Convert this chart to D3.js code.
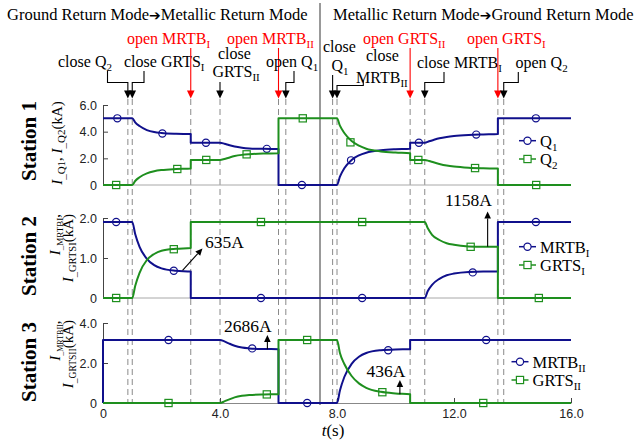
<!DOCTYPE html>
<html><head><meta charset="utf-8">
<script src="https://cdn.jsdelivr.net/npm/d3@7"></script>
<style>body{margin:0;background:#fff} svg{display:block}</style>
</head><body>
<script>
// ---------------- DATA ----------------
const timeTicks = [0, 4, 8, 12, 16];
const s1Ticks = [0, 2, 4, 6];
const s2Ticks = [0, 1, 2];
const s3Ticks = [0, 2, 4];
const eventTimes = [0.85, 1.0, 3.0, 4.0, 6.0, 6.25, 7.85, 8.0, 10.5, 11.0, 13.5, 13.7];

// Station 1
const s1_Q1 = [[0,5.0],[1.0,5.0],[1.1,4.7],[1.25,4.42],[1.5,4.12],[1.75,3.97],[2.0,3.9],[2.5,3.84],[3.0,3.82],[3.0,3.17],[4.0,3.17],[4.15,3.1],[4.3,3.0],[4.5,2.88],[4.75,2.79],[5.0,2.74],[5.5,2.71],[6.0,2.7],[6.0,0],[8.0,0],[8.1,0.62],[8.25,1.25],[8.5,1.88],[8.75,2.22],[9.0,2.42],[9.5,2.6],[10.0,2.68],[10.5,2.72],[10.5,3.17],[11.0,3.17],[11.15,3.28],[11.3,3.38],[11.5,3.5],[11.75,3.6],[12.0,3.67],[12.5,3.75],[13.0,3.79],[13.5,3.82],[13.5,5.0],[16,5.0]];
const s1_Q2 = [[0,0],[1.0,0],[1.1,0.3],[1.25,0.58],[1.5,0.87],[1.75,1.03],[2.0,1.12],[2.5,1.2],[3.0,1.24],[3.0,1.88],[4.0,1.88],[4.15,1.95],[4.3,2.05],[4.5,2.17],[4.75,2.26],[5.0,2.31],[5.5,2.36],[6.0,2.38],[6.0,5.0],[8.0,5.0],[8.1,4.45],[8.25,3.9],[8.5,3.3],[8.75,2.95],[9.0,2.72],[9.5,2.52],[10.0,2.43],[10.5,2.38],[10.5,1.88],[11.0,1.88],[11.15,1.8],[11.3,1.7],[11.5,1.58],[11.75,1.46],[12.0,1.38],[12.5,1.29],[13.0,1.25],[13.5,1.23],[13.5,0],[16,0]];
const s1_Q1_marks = [[0.49,5.0],[2.03,3.86],[3.52,3.17],[5.6,2.71],[6.8,0],[8.48,1.85],[10.8,3.17],[12.76,3.78],[14.8,5.0]];
const s1_Q2_marks = [[0.45,0],[2.54,1.2],[3.53,1.88],[4.91,2.3],[6.83,5.0],[8.46,3.2],[10.78,1.88],[12.72,1.27],[14.81,0]];

// Station 2
const s2_MRTB1 = [[0,1.9],[1.0,1.9],[1.1,1.6],[1.25,1.28],[1.5,0.98],[1.75,0.82],[2.0,0.74],[2.5,0.68],[3.0,0.66],[3.0,0],[11.0,0],[11.1,0.17],[11.25,0.33],[11.5,0.48],[11.75,0.57],[12.0,0.61],[12.5,0.65],[13.0,0.66],[13.5,0.66],[13.5,1.9],[16,1.9]];
const s2_GRTS1 = [[0,0],[1.0,0],[1.1,0.3],[1.25,0.63],[1.5,0.95],[1.75,1.1],[2.0,1.18],[2.5,1.23],[3.0,1.25],[3.0,1.9],[11.0,1.9],[11.1,1.75],[11.25,1.58],[11.5,1.45],[11.75,1.37],[12.0,1.33],[12.5,1.29],[13.0,1.28],[13.5,1.28],[13.5,0],[16,0]];
const s2_MRTB1_marks = [[0.45,1.9],[2.42,0.68],[5.4,0],[8.86,0],[12.64,0.64],[14.8,1.9]];
const s2_GRTS1_marks = [[0.45,0],[2.42,1.22],[5.4,1.9],[8.86,1.9],[12.57,1.28],[14.9,0]];

// Station 3
const s3_MRTB2 = [[0,0],[0,3.15],[4.0,3.15],[4.15,3.08],[4.3,2.98],[4.5,2.86],[4.75,2.77],[5.0,2.73],[5.5,2.7],[6.0,2.69],[6.0,0],[8.0,0],[8.1,0.62],[8.25,1.3],[8.5,1.96],[8.75,2.31],[9.0,2.5],[9.5,2.64],[10.0,2.68],[10.5,2.69],[10.5,3.15],[16,3.15]];
const s3_GRTS2 = [[0,0],[4.0,0],[4.15,0.08],[4.3,0.17],[4.5,0.28],[4.75,0.36],[5.0,0.4],[5.5,0.43],[6.0,0.44],[6.0,3.15],[8.0,3.15],[8.1,2.5],[8.25,1.95],[8.5,1.35],[8.75,0.98],[9.0,0.76],[9.5,0.56],[10.0,0.48],[10.5,0.44],[10.5,0],[16,0]];
const s3_MRTB2_marks = [[2.24,3.15],[5.1,2.73],[6.98,0],[9.75,2.64],[13.1,3.15]];
const s3_GRTS2_marks = [[2.24,0],[5.6,0.43],[6.98,3.15],[9.55,0.54],[13.0,0]];

// value call-outs: [label, t from, value from, t to, value to]
const callouts = [["635A", 2.72, 0.69, 3.4, 1.24], ["1158A", 13.15, 1.28, 13.15, 2.16], ["2686A", 5.62, 2.69, 5.62, 3.4], ["436A", 10.15, 0.44, 10.15, 1.15]];

// ---------------- DRAW ----------------
const SERIF = "Liberation Serif, Tinos, Times New Roman, DejaVu Serif, Noto Serif, serif";
const SANS = "Liberation Sans, Arimo, Arial, sans-serif";
const BLUE = "#10108c", GREEN = "#1e8f1e", RED = "#ff0000", DASH = "#8a8a8a";
const W = 634, H = 445;
const svg = d3.select("body").append("svg").attr("width", W).attr("height", H);

const x = d3.scaleLinear().domain([0, 16]).range([103, 571]);
const panels = [
  {y: d3.scaleLinear().domain([0, 6]).range([185, 105]), ticks: s1Ticks,
   series: [[s1_Q1, s1_Q1_marks, BLUE, "c"], [s1_Q2, s1_Q2_marks, GREEN, "s"]]},
  {y: d3.scaleLinear().domain([0, 2]).range([298, 218]), ticks: s2Ticks,
   series: [[s2_MRTB1, s2_MRTB1_marks, BLUE, "c"], [s2_GRTS1, s2_GRTS1_marks, GREEN, "s"]]},
  {y: d3.scaleLinear().domain([0, 4]).range([403, 323]), ticks: s3Ticks,
   series: [[s3_MRTB2, s3_MRTB2_marks, BLUE, "c"], [s3_GRTS2, s3_GRTS2_marks, GREEN, "s"]]}
];
const fmt = d => d === 0 ? "0" : d.toFixed(1);

// rich text helper: parts = [text, type] with type n|i|sub|arrow
function rich(sel, parts, size, subSize, shiftPx) {
  let cur = 0;
  parts.forEach(p => {
    const s = Array.isArray(p) ? p[0] : p;
    const type = Array.isArray(p) ? p[1] : "n";
    const ts = sel.append("tspan").text(s);
    const target = type === "sub" ? shiftPx : 0;
    if (target - cur !== 0) ts.attr("dy", target - cur);
    cur = target;
    ts.attr("font-size", type === "sub" ? subSize : size);
    if (type === "i") ts.attr("font-style", "italic");
    if (type === "arrow") ts.attr("font-family", "DejaVu Sans").attr("font-size", size * 0.85).attr("font-weight", "bold");
  });
  return sel;
}
function txt(px, py, parts, opt = {}) {
  const t = svg.append("text").attr("x", px).attr("y", py)
    .style("font-family", SERIF).attr("fill", opt.fill || "#000")
    .attr("text-anchor", opt.anchor || "start").attr("font-size", opt.size || 16);
  return rich(t, parts, opt.size || 16, opt.sub || 11, opt.shift || 4);
}
function rtxt(px, py, parts, opt = {}) {
  const t = svg.append("text").attr("transform", `translate(${px},${py}) rotate(-90)`)
    .style("font-family", SERIF).attr("fill", "#000")
    .attr("text-anchor", opt.anchor || "middle").attr("font-size", opt.size || 16);
  if (opt.bold) t.attr("font-weight", "bold");
  return rich(t, parts, opt.size || 16, opt.sub || 11, opt.shift || 3.5);
}
function head(px, tipY, color) {
  svg.append("path").attr("d", `M${px - 3.8},${tipY - 8}L${px + 3.8},${tipY - 8}L${px},${tipY}Z`).attr("fill", color);
}

// header
txt(7, 20, ["Ground Return Mode", ["\u2794", "arrow"], "Metallic Return Mode"], {size: 16.5});
txt(333, 20, ["Metallic Return Mode", ["\u2794", "arrow"], "Ground Return Mode"], {size: 16.5});
svg.append("line").attr("x1", 320).attr("x2", 320).attr("y1", 3).attr("y2", 405)
  .attr("stroke", "#555").attr("stroke-width", 1.2);

// dashed event lines
svg.append("g").selectAll("line").data(eventTimes).join("line")
  .attr("x1", d => x(d)).attr("x2", d => x(d)).attr("y1", 99).attr("y2", 403)
  .attr("stroke", DASH).attr("stroke-width", 1).attr("stroke-dasharray", "6,4");

// panels
panels.forEach((p, i) => {
  const g = svg.append("g");
  if (i < 2) {
    g.append("line").attr("x1", x(0)).attr("x2", x(16)).attr("y1", p.y(0)).attr("y2", p.y(0))
      .attr("stroke", "#a8a8a8").attr("stroke-width", 1);
  } else {
    const ax = g.append("g").attr("transform", `translate(0,${p.y(0)})`)
      .call(d3.axisBottom(x).tickValues(timeTicks).tickSize(-5).tickSizeOuter(0).tickPadding(6).tickFormat(fmt));
    ax.select(".domain").attr("stroke", "#888");
    ax.selectAll(".tick line").attr("stroke", "#444");
    ax.selectAll("text").style("font-family", SANS).attr("font-size", 12.5).attr("fill", "#222");
  }
  const ay = g.append("g").attr("transform", `translate(${x(0)},0)`)
    .call(d3.axisLeft(p.y).tickValues(p.ticks).tickSize(-5).tickSizeOuter(0).tickPadding(6).tickFormat(fmt));
  ay.select(".domain").attr("stroke", "#444");
  ay.selectAll(".tick line").attr("stroke", "#444");
  ay.selectAll("text").style("font-family", SANS).attr("font-size", 12.5).attr("fill", "#222");

  const line = d3.line().x(d => x(d[0])).y(d => p.y(d[1])).curve(d3.curveMonotoneX);
  p.series.forEach(([data, marks, color, shape]) => {
    g.append("path").attr("d", line(data)).attr("fill", "none").attr("stroke", color)
      .attr("stroke-width", 2).attr("stroke-linejoin", "round");
    if (shape === "c") {
      g.selectAll(null).data(marks).join("circle").attr("cx", d => x(d[0])).attr("cy", d => p.y(d[1]))
        .attr("r", 3.6).attr("fill", "none").attr("stroke", color).attr("stroke-width", 1.2);
    } else {
      g.selectAll(null).data(marks).join("rect").attr("x", d => x(d[0]) - 3.6).attr("y", d => p.y(d[1]) - 3.6)
        .attr("width", 7.2).attr("height", 7.2).attr("fill", "none").attr("stroke", color).attr("stroke-width", 1.2);
    }
  });
});

// legends
function legendRow(lx, ly, color, shape, parts) {
  svg.append("line").attr("x1", lx).attr("x2", lx + 17).attr("y1", ly).attr("y2", ly)
    .attr("stroke", color).attr("stroke-width", 1.5);
  if (shape === "c") svg.append("circle").attr("cx", lx + 8.5).attr("cy", ly).attr("r", 3.6)
    .attr("fill", "#fff").attr("stroke", color).attr("stroke-width", 1.2);
  else svg.append("rect").attr("x", lx + 4.9).attr("y", ly - 3.6).attr("width", 7.2).attr("height", 7.2)
    .attr("fill", "#fff").attr("stroke", color).attr("stroke-width", 1.2);
  txt(lx + 21, ly + 6, parts, {size: 16.5});
}
legendRow(519, 140.7, BLUE, "c", ["Q", ["1", "sub"]]);
legendRow(519, 159, GREEN, "s", ["Q", ["2", "sub"]]);
legendRow(519, 246.7, BLUE, "c", ["MRTB", ["I", "sub"]]);
legendRow(519, 265, GREEN, "s", ["GRTS", ["I", "sub"]]);
legendRow(511.5, 361.7, BLUE, "c", ["MRTB", ["II", "sub"]]);
legendRow(511.5, 380, GREEN, "s", ["GRTS", ["II", "sub"]]);

// y labels
rtxt(36, 141, ["Station 1"], {size: 21, bold: true});
rtxt(36, 256, ["Station 2"], {size: 21, bold: true});
rtxt(36, 362, ["Station 3"], {size: 21, bold: true});
rtxt(61.5, 143, [["I", "i"], ["_Q1", "sub"], ", ", ["I", "i"], ["_Q2", "sub"], "(kA)"], {size: 15});
rtxt(59.5, 214, [["I", "i"], ["_MRTBI", "sub"], ","], {size: 15, sub: 9, anchor: "end"});
rtxt(72.5, 214, [["I", "i"], ["_GRTSI", "sub"], "(kA)"], {size: 15, sub: 10.5, anchor: "end"});
rtxt(59.5, 320.5, [["I", "i"], ["_MRTBII", "sub"], ","], {size: 15, sub: 8, anchor: "end"});
rtxt(72.5, 320, [["I", "i"], ["_GRTSII", "sub"], "(kA)"], {size: 15, sub: 9.5, anchor: "end"});

// x label
txt(333, 436, [["t", "i"], "(s)"], {anchor: "middle", size: 17});

// top annotations
const leaderY = 82.5, tipY = 98.5;
function leader(fromX, fromY, t) {
  const ex = x(t);
  svg.append("path").attr("d", `M${fromX},${fromY}V${leaderY}H${ex}V${tipY - 7}`)
    .attr("fill", "none").attr("stroke", "#000").attr("stroke-width", 1.1);
  head(ex, tipY, "#000");
}
function straight(t, fromY, color) {
  const ex = x(t);
  svg.append("line").attr("x1", ex).attr("x2", ex).attr("y1", fromY).attr("y2", tipY - 7)
    .attr("stroke", color).attr("stroke-width", 1.1);
  head(ex, tipY, color);
}
txt(58, 67, ["close Q", ["2", "sub"]]);
leader(107.5, 71, eventTimes[0]);
txt(124, 67, ["close GRTS", ["I", "sub"]]);
leader(144, 71, eventTimes[1]);
txt(127, 44, ["open MRTB", ["I", "sub"]], {fill: RED});
straight(eventTimes[2], 48, RED);
txt(218, 59, ["close"]);
txt(212.5, 77, ["GRTS", ["II", "sub"]]);
straight(eventTimes[3], 82, "#000");
txt(227, 44, ["open MRTB", ["II", "sub"]], {fill: RED});
straight(eventTimes[4], 48, RED);
txt(266, 67, ["open Q", ["1", "sub"]]);
leader(294, 71, eventTimes[5]);

txt(323, 52, ["close"]);
txt(331.5, 71, ["Q", ["1", "sub"]]);
straight(eventTimes[6], 75, "#000");
txt(366, 60.5, ["close"]);
txt(356, 83, ["MRTB", ["II", "sub"]]);
svg.append("path").attr("d", `M363.3,80.5V85.5H${x(eventTimes[7])}V${tipY - 7}`)
  .attr("fill", "none").attr("stroke", "#000").attr("stroke-width", 1.1);
head(x(eventTimes[7]), tipY, "#000");
txt(363, 44, ["open GRTS", ["II", "sub"]], {fill: RED});
straight(eventTimes[8], 48, RED);
txt(417, 68, ["close MRTB", ["I", "sub"]]);
leader(444, 72, eventTimes[9]);
txt(467, 44, ["open GRTS", ["I", "sub"]], {fill: RED});
straight(eventTimes[10], 48, RED);
txt(515.5, 68, ["open Q", ["2", "sub"]]);
leader(518.3, 72, eventTimes[11]);

// call-outs
const calloutPanels = [1, 1, 2, 2];
const calloutText = [[205, 248], [445, 205.5], [224, 332], [366.5, 377.3]];
callouts.forEach((c, i) => {
  const py = panels[calloutPanels[i]].y;
  const x0 = x(c[1]), y0 = py(c[2]), x1 = x(c[3]), y1 = py(c[4]);
  const ang = Math.atan2(y1 - y0, x1 - x0);
  const bx = x1 - 7 * Math.cos(ang), by = y1 - 7 * Math.sin(ang);
  svg.append("line").attr("x1", x0).attr("y1", y0).attr("x2", bx).attr("y2", by)
    .attr("stroke", "#000").attr("stroke-width", 1.1);
  const nx = -Math.sin(ang) * 3.3, ny = Math.cos(ang) * 3.3;
  svg.append("path").attr("d", `M${x1},${y1}L${bx + nx},${by + ny}L${bx - nx},${by - ny}Z`).attr("fill", "#000");
  txt(calloutText[i][0], calloutText[i][1], [c[0]], {size: 17.5});
});
</script>
</body></html>
